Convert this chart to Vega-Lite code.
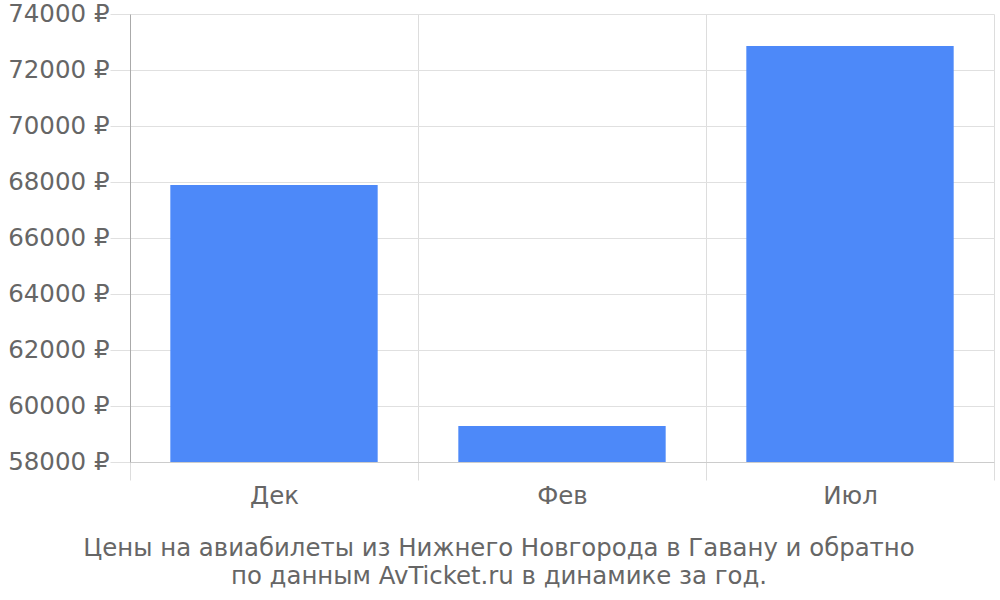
{
  "$schema": "https://vega.github.io/schema/vega-lite/v6.json",
  "width": 864,
  "height": 448,
  "autosize": "none",
  "padding": {"left": 130, "top": 14, "right": 6, "bottom": 138},
  "background": "white",
  "config": {
    "font": "DejaVu Sans",
    "view": {"stroke": null}
  },
  "title": {
    "text": ["Цены на авиабилеты из Нижнего Новгорода в Гавану и обратно", "по данным AvTicket.ru в динамике за год."],
    "orient": "bottom",
    "anchor": "middle",
    "dx": -63,
    "offset": 29,
    "fontSize": 24.4,
    "fontWeight": "normal",
    "color": "#666666",
    "lineHeight": 28
  },
  "data": {
    "values": [
      {"month": "Дек", "price": 67893},
      {"month": "Фев", "price": 59286},
      {"month": "Июл", "price": 72857}
    ]
  },
  "mark": {"type": "bar", "color": "#4d89f9", "width": {"band": 0.72}},
  "encoding": {
    "x": {
      "field": "month",
      "type": "nominal",
      "sort": null,
      "title": null,
      "scale": {"paddingInner": 0, "paddingOuter": 0},
      "axis": {
        "tickBand": "extent",
        "grid": true,
        "gridColor": "#dddddd",
        "tickColor": "#dddddd",
        "tickSize": 18,
        "domainColor": "#cccccc",
        "labelAngle": 0,
        "labelFontSize": 24.5,
        "labelColor": "#666666",
        "labelPadding": 4
      }
    },
    "y": {
      "field": "price",
      "type": "quantitative",
      "title": null,
      "scale": {"domain": [58000, 74000], "nice": false, "zero": false},
      "axis": {
        "values": [58000, 60000, 62000, 64000, 66000, 68000, 70000, 72000, 74000],
        "labelExpr": "datum.value + ' ₽'",
        "grid": true,
        "gridColor": "#e0e0e0",
        "tickColor": "#e0e0e0",
        "tickSize": 20,
        "domainColor": "#aaaaaa",
        "labelFontSize": 24.5,
        "labelColor": "#666666",
        "labelPadding": 1
      }
    },
    "y2": {"datum": 58000}
  }
}
